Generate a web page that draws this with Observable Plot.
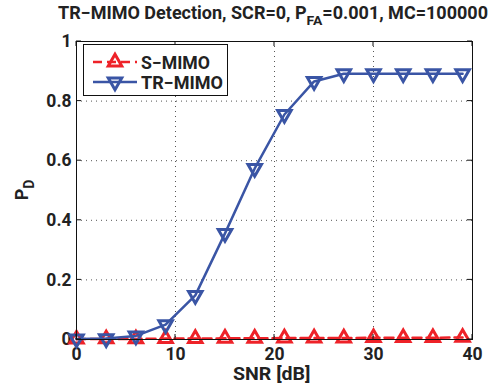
<!DOCTYPE html>
<html><head><meta charset="utf-8">
<script src="https://cdn.jsdelivr.net/npm/d3@7"></script>
<script src="https://cdn.jsdelivr.net/npm/@observablehq/plot@0.6"></script>
<style>
body{margin:0;background:#fff}
#chart svg text{font-family:Roboto, 'Liberation Sans', Arial, sans-serif !important;font-weight:700 !important;fill:#222}
</style>
</head><body><div id="chart"></div>
<script>
const snr = [0,3,6,9,12,15,18,21,24,27,30,33,36,39];
const sMimo = [0.001,0.002,0.002,0.003,0.003,0.004,0.004,0.005,0.005,0.005,0.006,0.006,0.006,0.007];
const trMimo = [0.002,0.003,0.012,0.05,0.148,0.356,0.574,0.755,0.866,0.892,0.892,0.892,0.892,0.892];
const xTicks = [0,10,20,30,40];
const yTicks = [0,0.2,0.4,0.6,0.8,1];
const seriesNames = ["S\u2212MIMO","TR\u2212MIMO"];
const colors = ["#ee2228","#3a55a5"];

const sData = snr.map((x,i)=>({x, y:sMimo[i]}));
const tData = snr.map((x,i)=>({x, y:trMimo[i]}));

const triDown = {draw(ctx, size){const h=Math.sqrt(size/(3*Math.sqrt(3)));ctx.moveTo(0,2*h);ctx.lineTo(-Math.sqrt(3)*h,-h);ctx.lineTo(Math.sqrt(3)*h,-h);ctx.closePath();}};
const triUp = {draw(ctx, size){const h=Math.sqrt(size/(3*Math.sqrt(3)));ctx.moveTo(0,-2*h);ctx.lineTo(-Math.sqrt(3)*h,h);ctx.lineTo(Math.sqrt(3)*h,h);ctx.closePath();}};
const R = 5;

const chart = Plot.plot({
  width:496, height:389,
  marginLeft:76, marginRight:24, marginTop:41, marginBottom:50,
  style:{fontSize:"17.5px", background:"white", color:"#222"},
  x:{domain:[0,40], ticks:xTicks},
  y:{domain:[0,1], ticks:yTicks},
  marks:[
    Plot.gridX(xTicks.slice(1,-1), {stroke:"#555", strokeOpacity:1, strokeDasharray:"1,4"}),
    Plot.gridY(yTicks.slice(1,-1), {stroke:"#555", strokeOpacity:1, strokeDasharray:"1,4"}),
    Plot.axisX(xTicks, {tickSize:0, tickPadding:8, label:null, fontSize:17.5, tickFormat:d=>String(d)}),
    Plot.axisY(yTicks, {tickSize:0, tickPadding:5, label:null, fontSize:17.5, tickFormat:d=>String(d)}),
    Plot.line(sData, {x:"x", y:"y", stroke:colors[0], strokeWidth:2.5, strokeDasharray:"9,5"}),
    Plot.dot(sData, {x:"x", y:"y", symbol:triUp, r:R, stroke:colors[0], strokeWidth:3, fill:"none"}),
    Plot.line(tData, {x:"x", y:"y", stroke:colors[1], strokeWidth:2.5}),
    Plot.dot(tData, {x:"x", y:"y", symbol:triDown, r:R, stroke:colors[1], strokeWidth:3, fill:"none"}),
    Plot.frame({stroke:"#111", strokeWidth:1})
  ]
});
document.getElementById("chart").append(chart);

const svg = d3.select(chart);
const xs = chart.scale("x"), ys = chart.scale("y");
const [x0,x1] = [xs.apply(0), xs.apply(40)];
const [yb,yt] = [ys.apply(0), ys.apply(1)];
const g = svg.append("g").attr("stroke","#111").attr("stroke-width",1);
xTicks.forEach(v=>{const px=xs.apply(v);
  g.append("line").attr("x1",px).attr("x2",px).attr("y1",yb).attr("y2",yb-5);
  g.append("line").attr("x1",px).attr("x2",px).attr("y1",yt).attr("y2",yt+5);});
yTicks.forEach(v=>{const py=ys.apply(v);
  g.append("line").attr("x1",x0).attr("x2",x0+5).attr("y1",py).attr("y2",py);
  g.append("line").attr("x1",x1).attr("x2",x1-5).attr("y1",py).attr("y2",py);});

function txt(sel, x, y, size, len){
  const t = sel.append("text").attr("x",x).attr("y",y).attr("text-anchor","start")
    .style("font-size",size+"px");
  if (len) t.attr("textLength",len).attr("lengthAdjust","spacingAndGlyphs");
  return t;
}
// title
const title = txt(svg,58,19,17.5,430);
title.append("tspan").text("TR\u2212MIMO Detection, SCR=0, P");
title.append("tspan").style("font-size","13.5px").attr("dy",6).text("FA");
title.append("tspan").attr("dy",-6).text("=0.001, MC=100000");

// x label
txt(svg,233,380,17.5,77.5).text("SNR [dB]");
// y label
const yl = svg.append("text").attr("transform",`translate(28,${(yb+yt)/2}) rotate(-90)`).attr("text-anchor","middle").style("font-size","18px");
yl.append("tspan").text("P");
yl.append("tspan").style("font-size","14px").attr("dy",6).text("D");

// legend
const lg = svg.append("g");
lg.append("rect").attr("x",83.5).attr("y",44.5).attr("width",144).attr("height",51).attr("fill","white").attr("stroke","#111");
const sym = [d3.symbol(triUp, Math.PI*R*R)(), d3.symbol(triDown, Math.PI*R*R)()];
const legLen = [69, 82];
seriesNames.forEach((name,i)=>{
  const cy = 62 + i*20;
  lg.append("line").attr("x1",93).attr("x2",137).attr("y1",cy).attr("y2",cy)
    .attr("stroke",colors[i]).attr("stroke-width",2.5).attr("stroke-dasharray", i===0?"9,5":null);
  lg.append("path").attr("d",sym[i]).attr("transform",`translate(115,${cy})`).attr("fill","none").attr("stroke",colors[i]).attr("stroke-width",3);
  txt(lg,141,cy+6.5,17.5,legLen[i]).text(name);
});
</script></body></html>
